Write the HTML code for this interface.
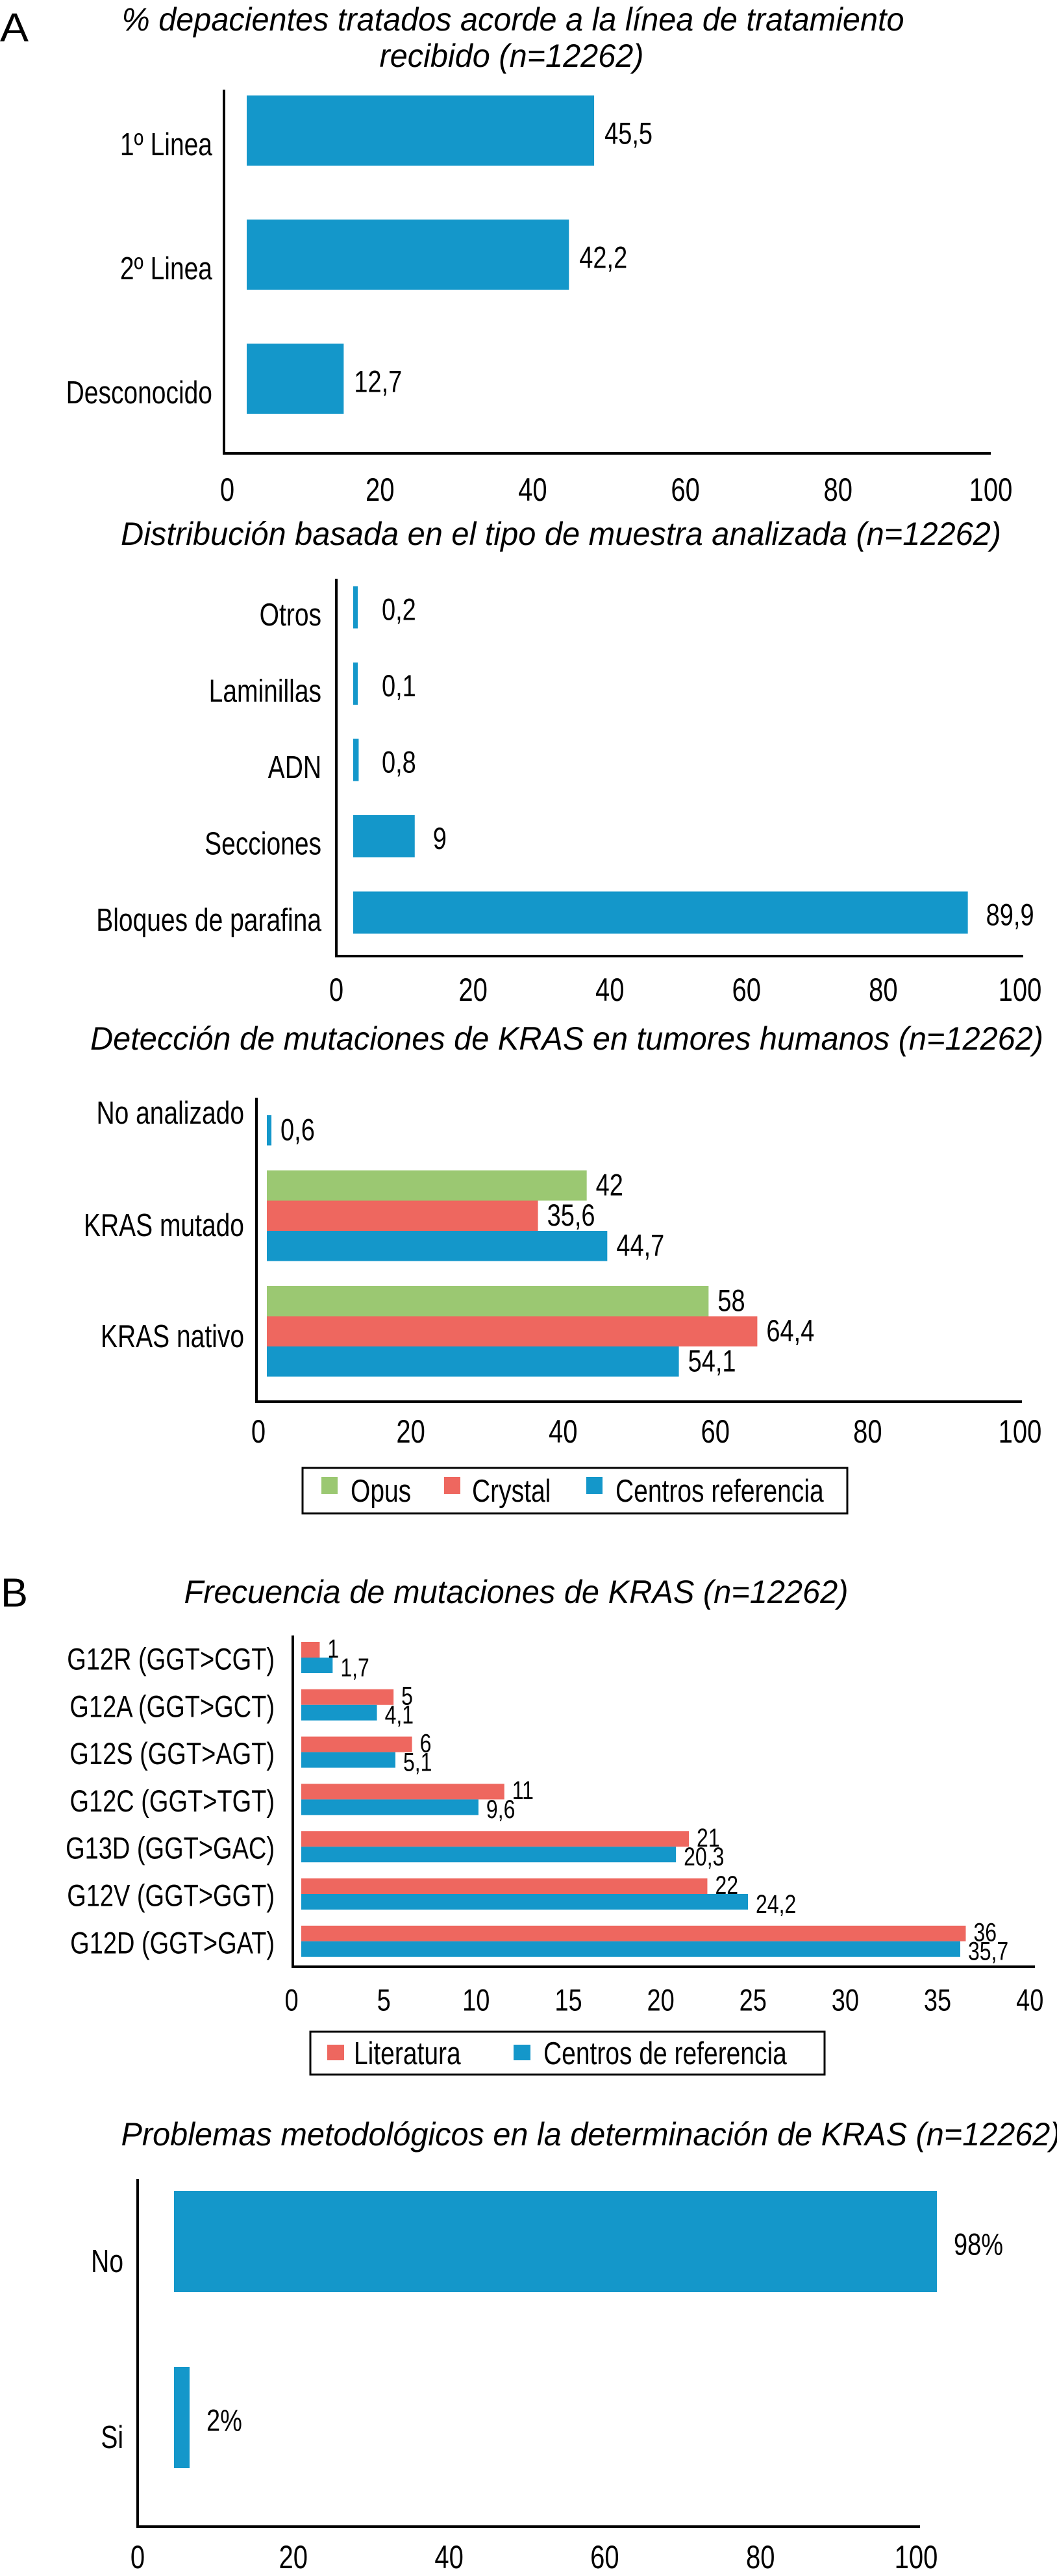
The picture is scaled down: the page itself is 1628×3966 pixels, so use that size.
<!DOCTYPE html>
<html><head><meta charset="utf-8"><title>KRAS charts</title>
<style>
html,body{margin:0;padding:0;background:#fff;}
svg{display:block;}
text{font-family:"Liberation Sans",sans-serif;fill:#000;}
</style></head>
<body>
<svg id="fig" width="1628" height="3966" viewBox="0 0 1628 3966" xmlns="http://www.w3.org/2000/svg"></svg>
<script>
// ---- Chart 1 data ----
const c1Categories = ["1º Linea", "2º Linea", "Desconocido"];
const c1Values = [45.5, 42.2, 12.7];
const c1Labels = ["45,5", "42,2", "12,7"];
const c1Ticks = [0, 20, 40, 60, 80, 100];
// ---- Chart 2 data ----
const c2Categories = ["Otros", "Laminillas", "ADN", "Secciones", "Bloques de parafina"];
const c2Values = [0.2, 0.1, 0.8, 9, 89.9];
const c2Labels = ["0,2", "0,1", "0,8", "9", "89,9"];
const c2Ticks = [0, 20, 40, 60, 80, 100];
// ---- Chart 3 data ----
const c3Categories = ["No analizado", "KRAS mutado", "KRAS nativo"];
const c3Series = ["Opus", "Crystal", "Centros referencia"];
const c3Opus = [null, 42, 58];
const c3Crystal = [null, 35.6, 64.4];
const c3Centros = [0.6, 44.7, 54.1];
const c3OpusLabels = ["", "42", "58"];
const c3CrystalLabels = ["", "35,6", "64,4"];
const c3CentrosLabels = ["0,6", "44,7", "54,1"];
const c3Ticks = [0, 20, 40, 60, 80, 100];
// ---- Chart 4 data ----
const c4Categories = ["G12R (GGT>CGT)", "G12A (GGT>GCT)", "G12S (GGT>AGT)", "G12C (GGT>TGT)", "G13D (GGT>GAC)", "G12V (GGT>GGT)", "G12D (GGT>GAT)"];
const c4Series = ["Literatura", "Centros de referencia"];
const c4Literatura = [1, 5, 6, 11, 21, 22, 36];
const c4Centros = [1.7, 4.1, 5.1, 9.6, 20.3, 24.2, 35.7];
const c4LitLabels = ["1", "5", "6", "11", "21", "22", "36"];
const c4CenLabels = ["1,7", "4,1", "5,1", "9,6", "20,3", "24,2", "35,7"];
const c4Ticks = [0, 5, 10, 15, 20, 25, 30, 35, 40];
// ---- Chart 5 data ----
const c5Categories = ["No", "Si"];
const c5Values = [98, 2];
const c5Labels = ["98%", "2%"];
const c5Ticks = [0, 20, 40, 60, 80, 100];

const BLUE = "#1497CA", RED = "#EE675F", GREEN = "#9BC872";
const NS = "http://www.w3.org/2000/svg";
const svg = document.getElementById("fig");
const SX = 0.8; // condensed look

function mk(tag, attrs, parent) {
  const e = document.createElementNS(NS, tag);
  for (const k in attrs) e.setAttribute(k, attrs[k]);
  (parent || svg).appendChild(e);
  return e;
}
function txt(str, x, y, size, anchor, parent, extra) {
  const big = size / SX;
  const t = mk("text", Object.assign({x: 0, y: 0, transform: "translate(" + x + "," + y + ") scale(" + SX + ",1)", "font-size": big, "text-anchor": anchor || "start", "dominant-baseline": "central"}, extra || {}), parent);
  t.textContent = str;
  return t;
}
function axisFn(x0, scale) { return v => x0 + v * scale; }
function group(name) {
  const g = mk("g", {});
  
  
  return g;
}
function axes(g, ax, x0, top, bottom, right, ticks, tickY, fs) {
  const a = mk("line", {x1: x0, y1: top, x2: x0, y2: bottom + 2, stroke: "#000", "stroke-width": 4}, g);
  
  
  const b = mk("line", {x1: x0 - 2, y1: bottom, x2: right, y2: bottom, stroke: "#000", "stroke-width": 4}, g);
  
  
  ticks.forEach(v => {
    const t = txt(String(v), ax(v), tickY, fs, "middle", g);
    
    
  });
}
function bar(g, ax, start, v, y, h, color, minW, name) {
  const w = Math.max(ax(v) - ax(0), minW);
  const r = mk("rect", {x: start, y: y, width: w, height: h, fill: color}, g);
  
  
  return start + w;
}
function title(g, str, cx, y, len, fs) {
  const t = txt(str, cx, y, fs, "middle", g, {"font-style": "italic", textLength: len / SX, lengthAdjust: "spacingAndGlyphs"});
  
  
}

// ===== Panel letters =====
let pl = txt("A", 22, 42, 50, "middle", svg, {textLength: 44 / SX, lengthAdjust: "spacingAndGlyphs"});


pl = txt("B", 22, 2452, 50, "middle", svg, {textLength: 42 / SX, lengthAdjust: "spacingAndGlyphs"});



// ===== Chart 1 =====
(function () {
  const g = group("chart-treatment-line");
  title(g, "% depacientes tratados acorde a la línea de tratamiento", 790, 30, 1205, 40);
  title(g, "recibido (n=12262)", 788, 86, 407, 40);
  const ax = axisFn(350, 11.76);
  axes(g, ax, 345, 138, 698, 1526, c1Ticks, 754, 40);
  const start = 380, h = 108;
  c1Values.forEach((v, i) => {
    const cy = 201 + i * 191;
    const end = bar(g, ax, start, v, cy - h / 2, h, BLUE, 6, "bar-" + c1Categories[i]);
    const l = txt(c1Labels[i], end + 16, cy + 5, 38, "start", g);
    
    
    const c = txt(c1Categories[i], 327, cy + 22, 39, "end", g);
    
    
  });
})();

// ===== Chart 2 =====
(function () {
  const g = group("chart-sample-type");
  title(g, "Distribución basada en el tipo de muestra analizada (n=12262)", 864, 822, 1356, 40);
  const ax = axisFn(518, 10.53);
  axes(g, ax, 518, 891, 1472, 1576, c2Ticks, 1524, 40);
  const start = 544, h = 65;
  c2Values.forEach((v, i) => {
    const cy = 935 + i * 117.5;
    const end = bar(g, ax, start, v, cy - h / 2, h, BLUE, 7, "bar-" + c2Categories[i]);
    const l = txt(c2Labels[i], Math.max(end, 560) + 28, cy + 4, 38, "start", g);
    
    
    const c = txt(c2Categories[i], 495, cy + 12, 39, "end", g);
    
    
  });
})();

// ===== Chart 3 =====
(function () {
  const g = group("chart-kras-detection");
  title(g, "Detección de mutaciones de KRAS en tumores humanos (n=12262)", 873, 1599, 1468, 40);
  const ax = axisFn(398, 11.73);
  axes(g, ax, 395, 1690, 2158, 1574, c3Ticks, 2204, 40);
  const start = 411, h = 46.5;
  const series = [[c3Opus, c3OpusLabels, GREEN], [c3Crystal, c3CrystalLabels, RED], [c3Centros, c3CentrosLabels, BLUE]];
  const labelOff = [20, 15, 8];
  c3Categories.forEach((cat, i) => {
    const gy = 1624 + i * 178;
    series.forEach((s, j) => {
      const v = s[0][i];
      if (v === null) return;
      const y = gy + j * h;
      const end = bar(g, ax, start, v, y, h, s[2], 6, "bar-" + c3Series[j] + "-" + cat);
      const l = txt(s[1][i], end + 14, y + h / 2, 38, "start", g);
      
      
    });
    const c = txt(cat, 376, gy + 70 + labelOff[i], 39, "end", g);
    
    
  });
  const lg = mk("g", {}, g);
  
  
  mk("rect", {x: 466, y: 2260, width: 839, height: 70, fill: "#fff", stroke: "#000", "stroke-width": 3}, lg);
  const items = [[495, 540, GREEN], [684, 727, RED], [903, 948, BLUE]];
  items.forEach((it, k) => {
    const sw = mk("rect", {x: it[0], y: 2274, width: 25, height: 26, fill: it[2]}, lg);
    
    
    const t = txt(c3Series[k], it[1], 2296, 39, "start", lg);
    
    
  });
})();

// ===== Chart 4 =====
(function () {
  const g = group("chart-kras-frequency");
  title(g, "Frecuencia de mutaciones de KRAS (n=12262)", 795, 2451, 1023, 40);
  const ax = axisFn(449, 28.43);
  axes(g, ax, 451, 2518, 3028, 1594, c4Ticks, 3080, 38);
  const start = 464, h = 24;
  c4Categories.forEach((cat, i) => {
    const gy = 2528 + i * 72.8;
    const e1 = bar(g, ax, start, c4Literatura[i], gy, h, RED, 4, "bar-literatura-" + cat);
    const e2 = bar(g, ax, start, c4Centros[i], gy + h, h, BLUE, 4, "bar-centros-" + cat);
    const l1 = txt(c4LitLabels[i], e1 + 12, gy + h / 2 - 2, 32, "start", g);
    
    
    const l2 = txt(c4CenLabels[i], e2 + 12, gy + h * 1.5 + 3, 32, "start", g);
    
    
    const c = txt(cat, 423, gy + h + 3, 38, "end", g);
    
    
  });
  const lg = mk("g", {}, g);
  
  
  mk("rect", {x: 478, y: 3128, width: 792, height: 66, fill: "#fff", stroke: "#000", "stroke-width": 3}, lg);
  const items = [[504, 545, RED], [791, 837, BLUE]];
  items.forEach((it, k) => {
    const sw = mk("rect", {x: it[0], y: 3148, width: 26, height: 24, fill: it[2]}, lg);
    
    
    const t = txt(c4Series[k], it[1], 3162, 39, "start", lg);
    
    
  });
})();

// ===== Chart 5 =====
(function () {
  const g = group("chart-methodological-problems");
  title(g, "Problemas metodológicos en la determinación de KRAS (n=12262)", 910, 3286, 1447, 40);
  const ax = axisFn(212, 11.99);
  axes(g, ax, 212, 3355, 3890, 1417, c5Ticks, 3937, 40);
  const start = 268, h = 156;
  c5Values.forEach((v, i) => {
    const cy = 3451 + i * 271;
    const end = bar(g, ax, start, v, cy - h / 2, h, BLUE, 6, "bar-" + c5Categories[i]);
    const l = txt(c5Labels[i], end + 26, cy + 5, 38, "start", g);
    
    
    const c = txt(c5Categories[i], 190, cy + 31, 39, "end", g);
    
    
  });
})();
</script>
</body></html>
